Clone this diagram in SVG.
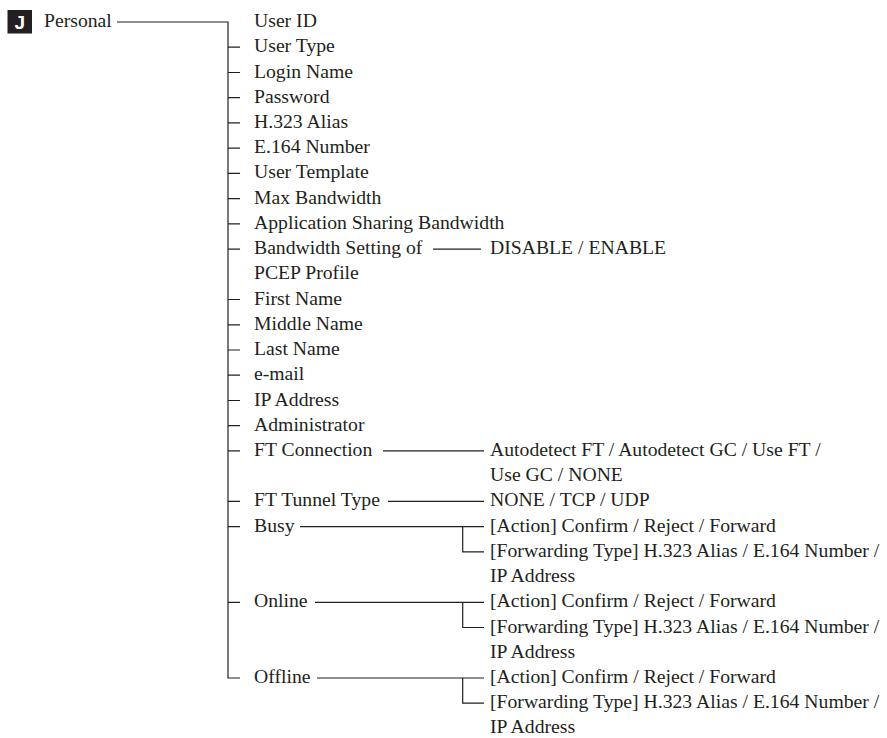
<svg xmlns="http://www.w3.org/2000/svg" width="887" height="738" viewBox="0 0 887 738">
<style>
text{font-family:"Liberation Serif","Times New Roman",serif;font-size:19.7px;fill:#231f20}
.c{fill:none;stroke:#231f20;stroke-width:1.2}
.badge{fill:#231f20}
.bt{font-family:"Liberation Sans",Arial,sans-serif;font-weight:bold;font-size:19px;fill:#fff}
</style>
<rect width="887" height="738" fill="#fff"/>
<g id="connectors" class="c">
<path d="M117 22H228V678H240"/>
<path d="M228 47.2H240M228 72.5H240M228 97.7H240M228 122.9H240M228 148.2H240M228 173.4H240M228 198.6H240M228 223.8H240M228 249.1H240M228 299.5H240M228 324.8H240M228 350H240M228 375.2H240M228 400.5H240M228 425.7H240M228 450.9H240M228 501.4H240M228 526.6H240M228 602.3H240"/>
<path d="M433 249.1H481"/>
<path d="M383 450.9H484"/>
<path d="M388 501.4H484"/>
<path d="M300 526.6H484M462.7 526.6V551.8H484"/>
<path d="M315 602.3H484M462.7 602.3V627.5H484"/>
<path d="M317 678H484M462.7 678V703.2H484"/>
</g>
<g id="root">
<rect class="badge" x="7.5" y="10" width="24.5" height="23.5"/>
<text class="bt" x="19.8" y="29" text-anchor="middle">J</text>
<text x="44" y="27">Personal</text>
</g>
<g id="user-id"><text x="254" y="27">User ID</text></g>
<g id="user-type"><text x="254" y="52.2">User Type</text></g>
<g id="login-name"><text x="254" y="77.5">Login Name</text></g>
<g id="password"><text x="254" y="102.7">Password</text></g>
<g id="h323-alias"><text x="254" y="127.9">H.323 Alias</text></g>
<g id="e164-number"><text x="254" y="153.2">E.164 Number</text></g>
<g id="user-template"><text x="254" y="178.4">User Template</text></g>
<g id="max-bandwidth"><text x="254" y="203.6">Max Bandwidth</text></g>
<g id="app-sharing-bw"><text x="254" y="228.8">Application Sharing Bandwidth</text></g>
<g id="bw-setting"><text x="254" y="254.1">Bandwidth Setting of</text><text x="254" y="279.3">PCEP Profile</text></g>
<g id="bw-setting-val"><text x="490" y="254.1">DISABLE / ENABLE</text></g>
<g id="first-name"><text x="254" y="304.5">First Name</text></g>
<g id="middle-name"><text x="254" y="329.8">Middle Name</text></g>
<g id="last-name"><text x="254" y="355">Last Name</text></g>
<g id="email"><text x="254" y="380.2">e-mail</text></g>
<g id="ip-address"><text x="254" y="405.5">IP Address</text></g>
<g id="administrator"><text x="254" y="430.7">Administrator</text></g>
<g id="ft-connection"><text x="254" y="455.9">FT Connection</text></g>
<g id="ft-connection-val"><text x="490" y="455.9">Autodetect FT / Autodetect GC / Use FT /</text><text x="490" y="481.1">Use GC / NONE</text></g>
<g id="ft-tunnel"><text x="254" y="506.4">FT Tunnel Type</text></g>
<g id="ft-tunnel-val"><text x="490" y="506.4">NONE / TCP / UDP</text></g>
<g id="busy"><text x="254" y="531.6">Busy</text></g>
<g id="busy-action"><text x="490" y="531.6">[Action] Confirm / Reject / Forward</text></g>
<g id="busy-fwd"><text x="490" y="556.8">[Forwarding Type] H.323 Alias / E.164 Number /</text><text x="490" y="582.1">IP Address</text></g>
<g id="online"><text x="254" y="607.3">Online</text></g>
<g id="online-action"><text x="490" y="607.3">[Action] Confirm / Reject / Forward</text></g>
<g id="online-fwd"><text x="490" y="632.5">[Forwarding Type] H.323 Alias / E.164 Number /</text><text x="490" y="657.8">IP Address</text></g>
<g id="offline"><text x="254" y="683">Offline</text></g>
<g id="offline-action"><text x="490" y="683">[Action] Confirm / Reject / Forward</text></g>
<g id="offline-fwd"><text x="490" y="708.2">[Forwarding Type] H.323 Alias / E.164 Number /</text><text x="490" y="733.4">IP Address</text></g>
</svg>
